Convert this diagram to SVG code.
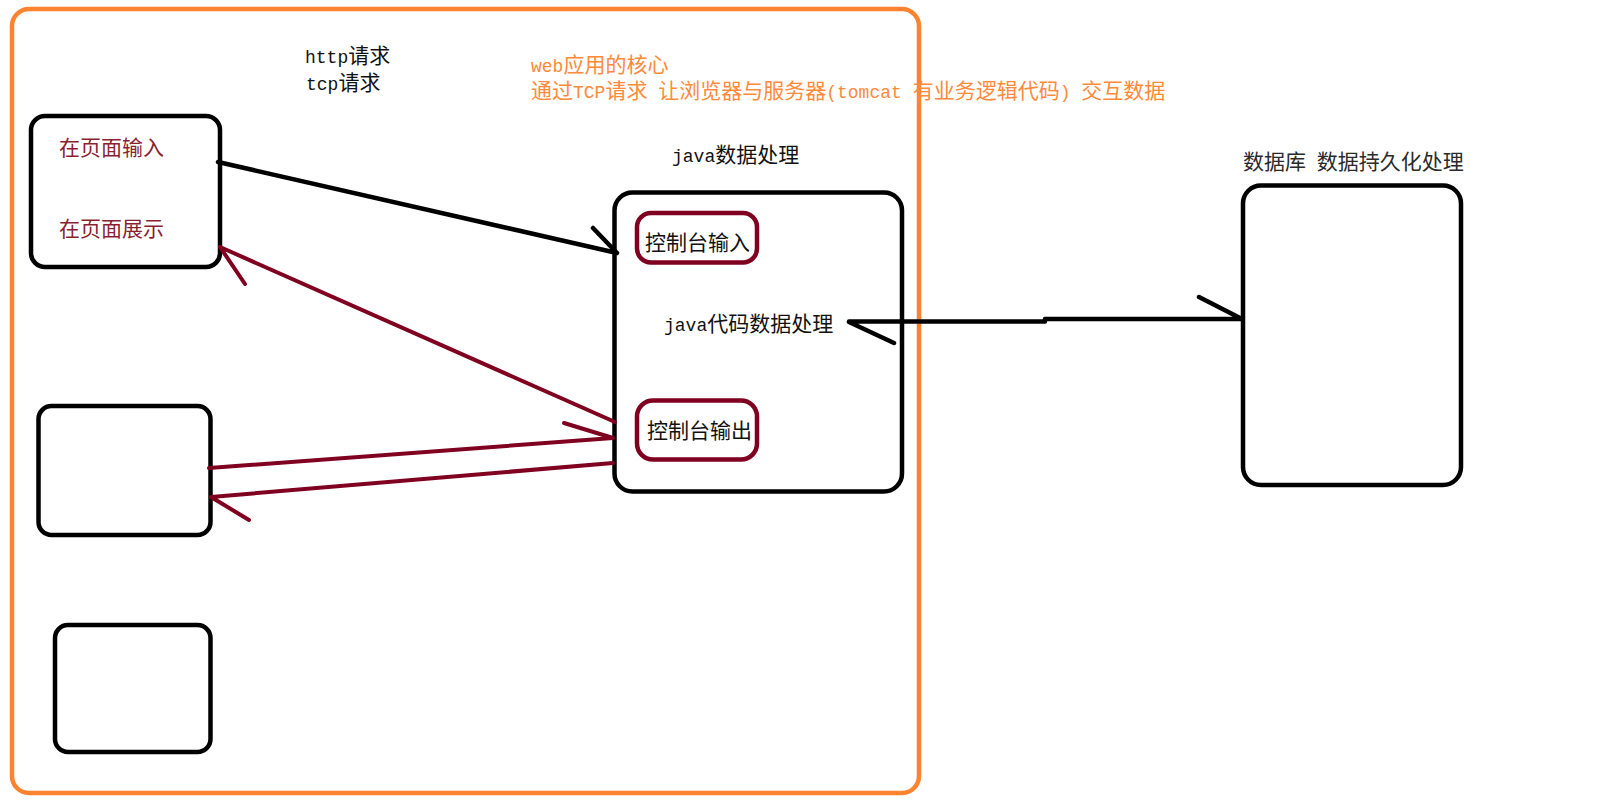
<svg xmlns="http://www.w3.org/2000/svg" width="1611" height="805" viewBox="0 0 1611 805">
<style>
  text { font-family: "Liberation Mono", "Noto Sans CJK SC", monospace; font-size: 21px; }
  .l { font-size: 18px; }
  .blk { fill: #111; }
  .org { fill: #ff8a3a; }
  .red { fill: #8a1f30; }
  .gry { fill: #2a2a2a; }
  .box { fill: none; stroke: #000; stroke-width: 4.5; }
  .rbox { fill: none; stroke: #800020; stroke-width: 4.5; }
  .frame { fill: none; stroke: #fe8330; stroke-width: 4.5; }
  .cb { fill: none; stroke: #000; stroke-width: 4.5; stroke-linecap: round; stroke-linejoin: round; }
  .cr { fill: none; stroke: #800020; stroke-width: 4; stroke-linecap: round; stroke-linejoin: round; }
</style>

<g id="web-app-frame">
  <rect class="frame" x="12" y="9" width="907" height="784" rx="17"/>
</g>

<g id="labels">
  <text class="blk" x="305" y="63"><tspan class="l">http</tspan>请求</text>
  <text class="blk" x="306" y="90"><tspan class="l">tcp</tspan>请求</text>
  <text class="org" x="531" y="71.5"><tspan class="l">web</tspan>应用的核心</text>
  <text class="org" x="531" y="97.5">通过<tspan class="l">TCP</tspan>请求<tspan class="l"> </tspan>让浏览器与服务器<tspan class="l">(tomcat </tspan>有业务逻辑代码<tspan class="l">) </tspan>交互数据</text>
  <text class="blk" x="672" y="162"><tspan class="l">java</tspan>数据处理</text>
  <text class="gry" x="1243" y="168.5">数据库<tspan class="l"> </tspan>数据持久化处理</text>
</g>

<g id="browser-page">
  <rect class="box" x="31" y="116" width="189" height="151" rx="14"/>
  <text class="red" x="59" y="154.5">在页面输入</text>
  <text class="red" x="59" y="235.5">在页面展示</text>
</g>

<g id="client-box-2">
  <rect class="box" x="38.5" y="406" width="172" height="129" rx="13"/>
</g>

<g id="client-box-3">
  <rect class="box" x="55" y="625" width="155.5" height="127" rx="13"/>
</g>

<g id="java-processing">
  <rect class="box" x="614.5" y="192.5" width="287.5" height="299" rx="18"/>
  <text class="blk" x="664" y="331"><tspan class="l">java</tspan>代码数据处理</text>
</g>

<g id="console-input">
  <rect class="rbox" x="637" y="213" width="120" height="49.5" rx="14"/>
  <text class="blk" x="645" y="249.5">控制台输入</text>
</g>

<g id="console-output">
  <rect class="rbox" x="637" y="400.5" width="120" height="59" rx="16"/>
  <text class="blk" x="647" y="437.5">控制台输出</text>
</g>

<g id="database">
  <rect class="box" x="1243" y="185.5" width="218" height="299.5" rx="18"/>
</g>

<g id="connectors">
  <path class="cb" d="M218,162 L617,253 M593,228 L617,253"/>
  <path class="cb" d="M849,321.5 H1045 M1045,319 H1242 M849,322 L894,343 M1199,297 L1242,319"/>
  <path class="cr" d="M615,422 L220,247 M220,247 L245,284"/>
  <path class="cr" d="M209,468 L613,438 M564,423 L613,438"/>
  <path class="cr" d="M613,463 L211,497 M211,497 L249,520"/>
</g>
</svg>
